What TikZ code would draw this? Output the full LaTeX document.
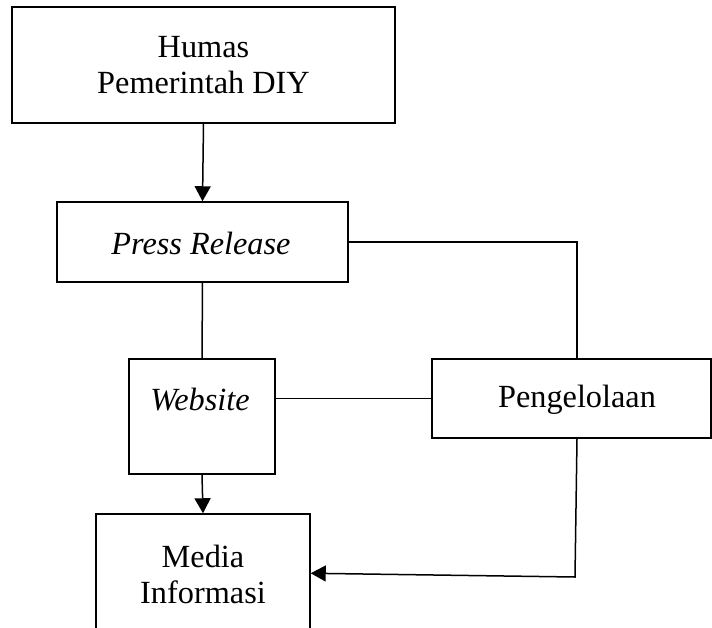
\documentclass[tikz,border=0pt]{standalone}
\usepackage{fontspec}
\setmainfont{Liberation Serif}
\usetikzlibrary{arrows.meta,calc}
\begin{document}
\begin{tikzpicture}[x=1pt,y=-1pt,
  box/.style={draw,line width=1.5pt,inner sep=0pt,rectangle},
  lbl/.style={font=\fontsize{32.3}{36}\selectfont,align=center,inner sep=0pt},
  conn/.style={line width=1.5pt},
  arr/.style={line width=1.5pt,-{Triangle[length=15pt,width=16pt]}}]
\useasboundingbox (0,0) rectangle (712,627);
\clip (0,0) rectangle (712,627);
% boxes
\node[box,minimum width=383pt,minimum height=116pt] (humas) at (203.5,65) {};
\node[box,minimum width=291pt,minimum height=80pt] (press) at (202.5,242) {};
\node[box,minimum width=146pt,minimum height=115pt] (web) at (202,416.5) {};
\node[box,minimum width=279pt,minimum height=79pt] (peng) at (571.5,398.5) {};
\node[box,minimum width=214pt,minimum height=136pt] (media) at (203,582) {};
% texts
\node[lbl] (thumas) at (203.5,65) {Humas\\Pemerintah DIY};
\node[lbl] (tpress) at (201,243) {\itshape Press Release};
\node[lbl] (tweb) at (200,400) {\itshape Website};
\node[lbl] (tpeng) at (577,400) {Pengelolaan};
\node[lbl] (tmedia) at (203,574) {Media\\Informasi};
% connectors
\coordinate (c1) at (577,242);
\coordinate (c2) at (575,577);
\coordinate (c3) at ($(media.north east)+(0,60)$);
\draw[arr] (humas.south) -- (press.north);
\draw[conn] (press.south) -- (web.north);
\draw[conn] (press.east) -- (c1) -- (peng.north -| c1);
\draw[conn] (web.east |- peng.west) -- (peng.west);
\draw[arr] (web.south) -- (media.north);
\draw[arr] (peng.south -| c1) -- (c2) -- (c3);
\end{tikzpicture}
\end{document}
